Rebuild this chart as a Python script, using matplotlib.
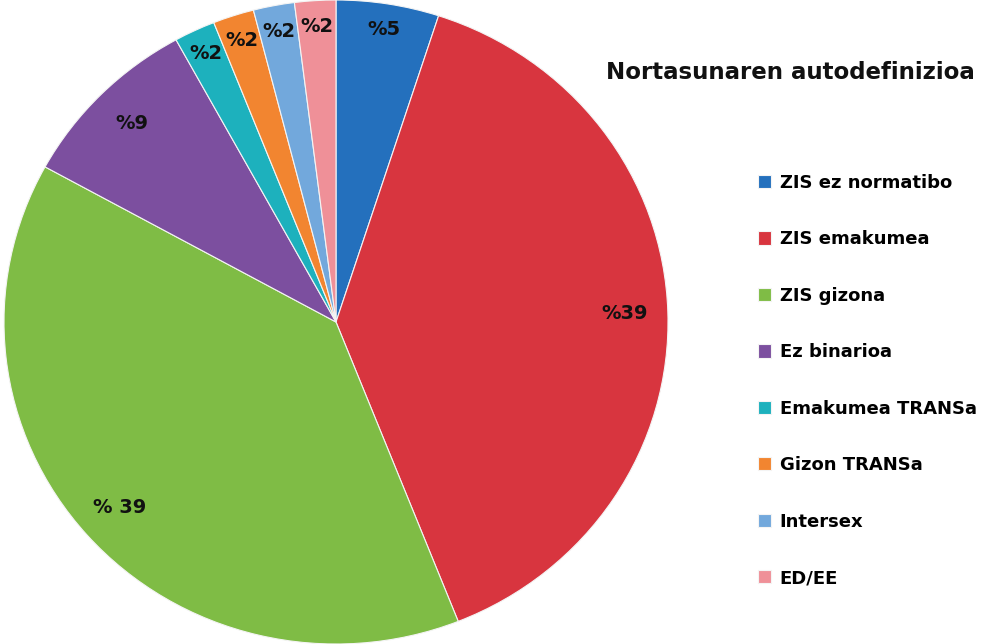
import numpy as np
import matplotlib.pyplot as plt

# data
labels = ['ZIS ez normatibo', 'ZIS emakumea', 'ZIS gizona', 'Ez binarioa',
          'Emakumea TRANSa', 'Gizon TRANSa', 'Intersex', 'ED/EE']
values = [5, 39, 39, 9, 2, 2, 2, 2]
pct_text = ['%5', '%39', '% 39', '%9', '%2', '%2', '%2', '%2']
colors = ['#2470bd', '#d8353f', '#7fbc45', '#7c4f9f',
          '#1db1bd', '#f28530', '#72a8dc', '#ef9098']
title = 'Nortasunaren autodefinizioa'

fig = plt.figure(figsize=(9.88, 6.44), dpi=100)
ax = fig.add_axes([4 / 988, 0.0, 664 / 988, 1.0])

wedges, _ = ax.pie(values, colors=colors, startangle=90, counterclock=False,
                   wedgeprops=dict(edgecolor='#f4f4f4', linewidth=0.8))
ax.set_xlim(-1, 1)
ax.set_ylim(-1, 1)
ax.set_aspect('auto')

# percentage labels near the outer edge
for w, t in zip(wedges, pct_text):
    mid = np.deg2rad((w.theta1 + w.theta2) / 2)
    r = 0.92 if w.theta2 - w.theta1 < 30 else 0.87
    ax.text(r * np.cos(mid), r * np.sin(mid), t, ha='center', va='center',
            fontsize=14, fontweight='bold', color='#111111')

fig.text(0.8, 0.888, title, ha='center', va='center',
         fontsize=16.5, fontweight='bold', color='#111111')

fig.legend(wedges, labels, loc='upper left', bbox_to_anchor=(0.758, 0.744),
           frameon=False, prop=dict(size=13, weight='bold'),
           handlelength=0.75, handleheight=0.75, handletextpad=0.45,
           labelspacing=2.13, borderpad=0)

fig.savefig('out.png', dpi=100)
